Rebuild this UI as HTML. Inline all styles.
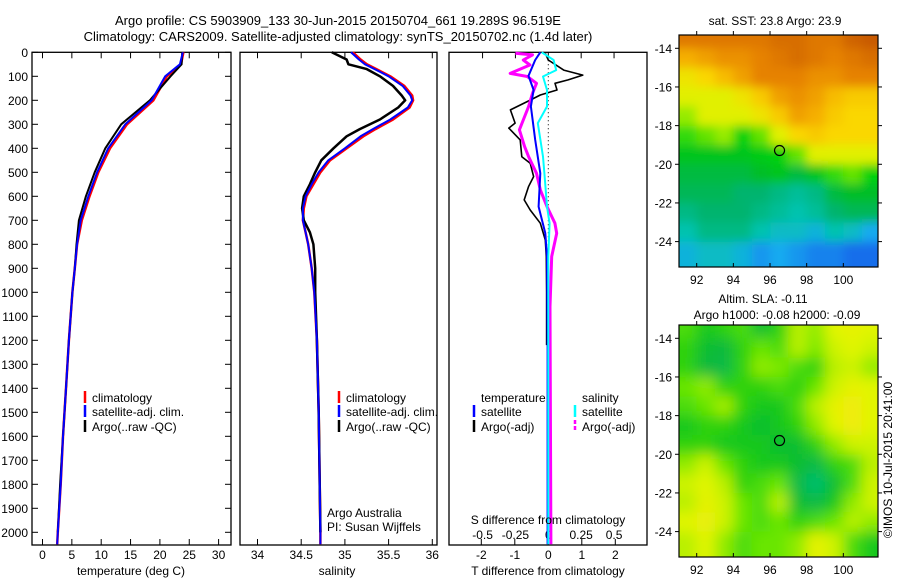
<!DOCTYPE html>
<html><head><meta charset="utf-8"><style>
body{margin:0;background:#fff;}
svg{display:block;font-family:"Liberation Sans",sans-serif;}
text{fill:#000;}
</style></head><body>
<svg id="fig" width="900" height="580" viewBox="0 0 900 580" xmlns="http://www.w3.org/2000/svg">
<defs>
<filter id="blur" x="-10%" y="-10%" width="120%" height="120%"><feGaussianBlur stdDeviation="7"/></filter>
<filter id="blur2" x="-10%" y="-10%" width="120%" height="120%"><feGaussianBlur stdDeviation="5"/></filter>
<clipPath id="clipTop"><rect x="679" y="35" width="199" height="232"/></clipPath>
<clipPath id="clipBot"><rect x="679" y="325" width="199" height="232"/></clipPath>
</defs>
<text x="338" y="25" font-size="13" text-anchor="middle">Argo profile: CS 5903909_133 30-Jun-2015 20150704_661 19.289S 96.519E</text>
<text x="338" y="41" font-size="13" text-anchor="middle">Climatology: CARS2009. Satellite-adjusted climatology: synTS_20150702.nc (1.4d later)</text>
<g id="p1"></g>
<g id="p2"></g>
<g id="p3"></g>
<g id="m1"></g>
<g id="m2"></g>
<text transform="translate(892,460) rotate(-90)" font-size="12" text-anchor="middle">©IMOS 10-Jul-2015 20:41:00</text>
</svg>
<script>
// ---- profile data ----
const tDepth = [0,50,100,200,300,400,500,600,700,800,900,1000,1200,1400,1600,1800,2000,2050];
const tClim  = [24.0,23.6,21.2,18.9,14.4,11.5,9.5,8.0,6.7,5.9,5.5,5.1,4.5,4.0,3.5,3.1,2.6,2.5];
const tSat   = [23.9,23.4,20.9,18.6,14.1,11.2,9.3,7.8,6.5,5.9,5.5,5.1,4.5,4.0,3.5,3.1,2.6,2.5];
const tArgo  = [23.8,23.7,21.8,18.3,13.4,10.7,8.9,7.4,6.2,5.8,5.5,5.1,4.5,4.0,3.5,3.0,2.6];
const sDepth = [0,30,50,70,100,140,180,200,230,280,320,350,400,450,500,550,600,650,700,750,800,900,1000,1200,1500,2000,2050];
const sClim  = [35.09,35.18,35.25,35.36,35.52,35.68,35.77,35.78,35.74,35.55,35.35,35.21,35.02,34.83,34.72,34.64,34.56,34.53,34.52,34.55,34.58,34.62,34.65,34.68,34.70,34.72,34.72];
const sSat   = [35.07,35.16,35.23,35.34,35.50,35.66,35.75,35.77,35.72,35.52,35.32,35.18,35.00,34.81,34.70,34.62,34.55,34.52,34.52,34.55,34.58,34.62,34.65,34.68,34.70,34.72,34.72];
const sArgo  = [34.85,35.02,35.04,35.25,35.40,35.55,35.65,35.69,35.61,35.40,35.17,35.02,34.87,34.73,34.66,34.60,34.53,34.51,34.53,34.60,34.64,34.66,34.66,34.68,34.70,34.72];
// differences
const dTArgoDepth = [4,32,74,95,115,129,157,178,199,240,295,316,365,435,462,518,560,615,657,712,782,851,1000,1220];
const dTArgo = [-0.09,0,0.46,1.03,0.59,0.2,0.26,-0.24,-0.54,-1.13,-0.99,-1.18,-0.84,-0.79,-0.54,-0.44,-0.59,-0.72,-0.54,-0.24,-0.09,-0.06,-0.05,-0.05];
const dTSatDepth = [0,32,98,157,226,365,504,643,754,851,1200,2050];
const dTSat = [-0.24,-0.39,-0.59,-0.44,-0.52,-0.39,-0.24,-0.29,-0.09,-0.04,-0.02,-0.02];
const dSSatDepth = [0,32,74,101,157,226,295,365,435,504,643,712,851,1200,2050];
const dSSat = [-0.05,0.04,0.06,-0.04,-0.01,-0.01,-0.08,-0.06,-0.04,-0.03,-0.01,0.01,0,0,0];
const dSArgoDepth = [4,11,32,53,88,101,129,171,226,323,393,435,504,574,643,712,754,851,1060,2050];
const dSArgo = [-0.25,-0.12,-0.19,-0.14,-0.29,-0.16,-0.09,-0.12,-0.15,-0.22,-0.18,-0.15,-0.09,-0.06,-0.01,0.05,0.064,0.026,0.013,0.02];
const depthTicks = [0,100,200,300,400,500,600,700,800,900,1000,1100,1200,1300,1400,1500,1600,1700,1800,1900,2000];
const tTicks = [0,5,10,15,20,25,30];
const sTicks = [34,34.5,35,35.5,36];
const dTTicks = [-2,-1,0,1,2];
const dSTicks = [-0.5,-0.25,0,0.25,0.5];
const dSTickLabels = ['-0.5','-0.25','0','0.25','0.5'];
// ---- map data (rows lat -13.5..-24.5, cols lon 91.5..101.5) ----
const mapLats = [-13.5,-14.5,-15.5,-16.5,-17.5,-18.5,-19.5,-20.5,-21.5,-22.5,-23.5,-24.5];
const mapLons = [91.5,92.5,93.5,94.5,95.5,96.5,97.5,98.5,99.5,100.5,101.5];
const sstGrid = [
[24.9,24.9,24.9,24.9,24.9,25.0,25.0,24.9,24.9,25.1,25.2],
[24.5,24.6,24.7,24.7,24.8,24.9,25.0,24.9,24.8,24.9,25.0],
[24.1,24.2,24.4,24.6,24.8,24.8,24.8,24.7,24.7,24.8,24.8],
[24.0,24.0,24.0,24.1,24.3,24.6,24.7,24.6,24.4,24.3,24.3],
[23.8,24.0,24.0,24.0,24.1,24.3,24.6,24.5,24.3,24.2,24.2],
[23.6,23.7,23.8,23.5,23.7,24.0,24.2,24.3,24.2,24.2,24.2],
[23.3,23.3,23.3,23.3,23.4,23.5,23.7,24.0,24.0,24.0,24.0],
[23.1,23.1,23.1,23.1,23.2,23.3,23.1,23.3,23.6,23.7,23.5],
[23.0,23.0,23.0,22.9,22.9,22.8,22.7,22.8,23.1,23.2,23.2],
[22.8,22.9,22.9,22.9,22.8,22.7,22.6,22.7,22.9,23.0,23.0],
[22.6,22.8,22.8,22.8,22.6,22.5,22.5,22.4,22.6,22.5,22.3],
[22.4,22.5,22.5,22.4,22.2,22.3,22.2,22.1,22.1,22.0,22.0]];
const slaGrid = [
[-0.08,-0.12,-0.10,-0.08,-0.14,-0.10,-0.02,-0.04,0.02,0.03,0.02],
[-0.10,-0.14,-0.15,-0.10,-0.06,-0.08,-0.02,-0.05,0.00,0.02,0.00],
[-0.10,-0.15,-0.16,-0.10,-0.04,-0.05,-0.08,-0.10,-0.02,0.00,-0.04],
[-0.06,-0.04,-0.10,-0.10,-0.10,-0.08,-0.10,-0.06,0.00,0.03,0.02],
[-0.08,-0.06,-0.03,-0.10,-0.12,-0.12,-0.08,-0.02,0.03,0.05,0.02],
[-0.12,-0.10,-0.10,-0.12,-0.14,-0.12,-0.10,-0.04,0.02,0.05,0.02],
[-0.10,-0.10,-0.12,-0.12,-0.12,-0.14,-0.14,-0.10,-0.04,0.00,0.00],
[-0.04,0.00,-0.06,-0.10,-0.12,-0.12,-0.14,-0.16,-0.10,-0.08,-0.02],
[0.00,0.02,-0.02,-0.10,-0.08,-0.06,-0.16,-0.20,-0.14,-0.08,0.00],
[-0.02,0.03,0.00,-0.06,-0.08,-0.02,-0.14,-0.16,-0.12,-0.04,0.00],
[0.02,0.04,0.00,-0.06,-0.08,-0.06,-0.10,-0.08,-0.06,-0.02,-0.04],
[-0.02,0.02,-0.04,-0.08,-0.06,-0.06,-0.04,0.03,0.00,-0.08,-0.12]];
const mapLonTicks = [92,94,96,98,100];
const mapLatTicks = [-14,-16,-18,-20,-22,-24];
const argoLon = 96.519, argoLat = -19.289;

const NS='http://www.w3.org/2000/svg';
function mk(parent,tag,attrs,txt){const e=document.createElementNS(NS,tag);for(const k in attrs)e.setAttribute(k,attrs[k]);if(txt!==undefined)e.textContent=txt;parent.appendChild(e);return e;}

const Y0=52.3, YPX=0.24, YB=545;
const yD = d => Y0 + d*YPX;
const xT = v => 42.5 + v*5.87;
const xS = v => 257.5 + (v-34)*87.4;
const xDT = v => 548.3 + v*33.5;
const xDS = v => 548.3 + v*131.5;

function frame(g,x0,x1,name){
  const r=mk(g,'rect',{x:x0,y:Y0,width:x1-x0,height:YB-Y0,fill:'none',stroke:'#000','stroke-width':1.3});
  
  
}
function line(g,xs,ds,xf,color,w,name,dash){
  const pts=xs.map((v,i)=>xf(v).toFixed(1)+','+yD(ds[i]).toFixed(1)).join(' ');
  const p=mk(g,'polyline',{points:pts,fill:'none',stroke:color,'stroke-width':w,'stroke-linejoin':'round'});
  if(dash)p.setAttribute('stroke-dasharray',dash);
  
  
}
function xticks(g,ticks,xf,labels,ly,top,bottom){
  ticks.forEach((t,i)=>{
    const x=xf(t);
    if(bottom){const l=mk(g,'line',{x1:x,x2:x,y1:YB,y2:YB-6,stroke:'#000'});}
    if(top){const l=mk(g,'line',{x1:x,x2:x,y1:Y0,y2:Y0+6,stroke:'#000'});}
    if(labels){const tx=mk(g,'text',{x:x,y:ly,'font-size':12,'text-anchor':'middle'},labels[i]);}
  });
}
function legendRow(g,x,y,color,label,dash){
  const l=mk(g,'line',{x1:x,x2:x,y1:y-11,y2:y+1,stroke:color,'stroke-width':2.5});
  if(dash)l.setAttribute('stroke-dasharray',dash);
  
  
  const t=mk(g,'text',{x:x+7,y:y,'font-size':12},label);
  
  
}

// Panel 1
const p1=document.getElementById('p1');
frame(p1,32,231,'temperature-axes');
depthTicks.forEach(d=>{
  const y=yD(d);
  const a=mk(p1,'line',{x1:32,x2:38,y1:y,y2:y,stroke:'#000'});
  const b=mk(p1,'line',{x1:225,x2:231,y1:y,y2:y,stroke:'#000'});
  const t=mk(p1,'text',{x:28,y:y+4.5,'font-size':12,'text-anchor':'end'},String(d));
});
xticks(p1,tTicks,xT,tTicks.map(String),559,true,true);
line(p1,tClim,tDepth,xT,'#f00',2.5,'temperature-climatology-line');
line(p1,tArgo,tDepth,xT,'#000',2,'temperature-argo-line');
line(p1,tSat,tDepth,xT,'#00f',2,'temperature-satellite-line');
legendRow(p1,85,402,'#f00','climatology');
legendRow(p1,85,416,'#00f','satellite-adj. clim.');
legendRow(p1,85,431,'#000','Argo(..raw -QC)');
mk(p1,'text',{x:131,y:575,'font-size':12,'text-anchor':'middle',},'temperature (deg C)');

// Panel 2
const p2=document.getElementById('p2');
frame(p2,240,437,'salinity-axes');
xticks(p2,sTicks,xS,['34','34.5','35','35.5','36'],559,true,true);
line(p2,sClim,sDepth,xS,'#f00',2.5,'salinity-climatology-line');
line(p2,sArgo,sDepth,xS,'#000',2.5,'salinity-argo-line');
line(p2,sSat,sDepth,xS,'#00f',2,'salinity-satellite-line');
legendRow(p2,339,402,'#f00','climatology');
legendRow(p2,339,416,'#00f','satellite-adj. clim.');
legendRow(p2,339,431,'#000','Argo(..raw -QC)');
mk(p2,'text',{x:327,y:517,'font-size':12,},'Argo Australia');
mk(p2,'text',{x:327,y:531,'font-size':12,},'PI: Susan Wijffels');
mk(p2,'text',{x:337,y:575,'font-size':12,'text-anchor':'middle',},'salinity');

// Panel 3
const p3=document.getElementById('p3');
frame(p3,449,647,'difference-axes');
mk(p3,'line',{x1:548.3,x2:548.3,y1:Y0,y2:YB,stroke:'#000','stroke-width':1,'stroke-dasharray':'1,3',});
xticks(p3,dTTicks,xDT,dTTicks.map(String),559,false,true);
xticks(p3,dSTicks,xDS,null,0,true,false);
dSTicks.forEach((t,i)=>{const tx=mk(p3,'text',{x:xDS(t),y:539,'font-size':12,'text-anchor':'middle'},dSTickLabels[i]);});
line(p3,dTArgo,dTArgoDepth,xDT,'#000',1.6,'t-diff-argo-line');
line(p3,dSArgo,dSArgoDepth,xDS,'#f0f',3,'s-diff-argo-line');
line(p3,dTSat,dTSatDepth,xDT,'#00f',2,'t-diff-satellite-line');
line(p3,dSSat,dSSatDepth,xDS,'#0ff',2,'s-diff-satellite-line');
mk(p3,'text',{x:481,y:402,'font-size':12,},'temperature');
mk(p3,'text',{x:582,y:402,'font-size':12,},'salinity');
legendRow(p3,474,416,'#00f','satellite');
legendRow(p3,474,431,'#000','Argo(-adj)');
legendRow(p3,575,416,'#0ff','satellite');
legendRow(p3,575,431,'#f0f','Argo(-adj)','4,2');
mk(p3,'text',{x:548,y:524,'font-size':12,'text-anchor':'middle',},'S difference from climatology');
mk(p3,'text',{x:548,y:575,'font-size':12,'text-anchor':'middle',},'T difference from climatology');

// Maps
const mx = lon => 696.7 + (lon-92)*18.33;
function sstColor(v){
  const stops=[[22.0,[20,110,235]],[22.3,[20,170,240]],[22.6,[0,195,175]],[22.9,[0,180,110]],[23.2,[0,190,40]],[23.5,[0,210,10]],[23.8,[150,235,0]],[24.0,[225,240,0]],[24.2,[250,215,0]],[24.5,[245,175,0]],[24.8,[230,130,0]],[25.2,[200,90,0]]];
  return interp(stops,v);
}
function slaColor(v){
  const stops=[[-0.20,[0,190,110]],[-0.15,[10,185,60]],[-0.11,[30,205,20]],[-0.06,[105,230,0]],[-0.02,[185,240,0]],[0.02,[225,245,0]],[0.05,[240,235,10]]];
  return interp(stops,v);
}
function interp(stops,v){
  if(v<=stops[0][0])return 'rgb('+stops[0][1]+')';
  for(let i=1;i<stops.length;i++){if(v<=stops[i][0]){const a=stops[i-1],b=stops[i],f=(v-a[0])/(b[0]-a[0]);return 'rgb('+a[1].map((c,j)=>Math.round(c+(b[1][j]-c)*f)).join(',')+')';}}
  return 'rgb('+stops[stops.length-1][1]+')';
}
function drawMap(g,top,grid,colorFn,clip,blur,title1,title2){
  const my = lat => top + 13.3 + (-14-lat)*19.33;
  const bottom=top+232;
  const cells=mk(g,'g',{'clip-path':'url(#'+clip+')'});
  const inner=mk(cells,'g',{filter:'url(#'+blur+')'});
  grid.forEach((row,r)=>row.forEach((v,c)=>{
    let x0=mx(mapLons[c]-0.5), x1=mx(mapLons[c]+0.5), y0=my(mapLats[r]+0.5), y1=my(mapLats[r]-0.5);
    if(c===0)x0-=25; if(c===row.length-1)x1+=25; if(r===0)y0-=25; if(r===grid.length-1)y1+=25;
    const cell=mk(inner,'rect',{x:x0,y:y0,width:x1-x0+0.5,height:y1-y0+0.5,fill:colorFn(v)});
    
    
  }));
  mk(g,'rect',{x:679,y:top,width:199,height:232,fill:'none',stroke:'#000','stroke-width':1.2,});
  mapLonTicks.forEach(l=>{
    const x=mx(l);
    const a=mk(g,'line',{x1:x,x2:x,y1:bottom,y2:bottom-4,stroke:'#000'});
    const b=mk(g,'line',{x1:x,x2:x,y1:top,y2:top-4,stroke:'#000'});
    const t=mk(g,'text',{x:x,y:bottom+17,'font-size':12,'text-anchor':'middle'},String(l));
  });
  mapLatTicks.forEach(l=>{
    const y=my(l);
    const a=mk(g,'line',{x1:679,x2:675,y1:y,y2:y,stroke:'#000'});
    const b=mk(g,'line',{x1:878,x2:882,y1:y,y2:y,stroke:'#000'});
    const t=mk(g,'text',{x:672,y:y+4.5,'font-size':12,'text-anchor':'end'},String(l));
  });
  const c=mk(g,'circle',{cx:mx(argoLon),cy:my(argoLat),r:5,fill:'none',stroke:'#000','stroke-width':1.2});
  
  
  if(title2){
    mk(g,'text',{x:763,y:top-22,'font-size':12,'text-anchor':'middle',},title1);
    mk(g,'text',{x:777,y:top-6,'font-size':12,'text-anchor':'middle',},title2);
  } else {
    mk(g,'text',{x:775,y:top-10,'font-size':12,'text-anchor':'middle',},title1);
  }
}
drawMap(document.getElementById('m1'),35,sstGrid,sstColor,'clipTop','blur2','sat. SST: 23.8 Argo: 23.9');
drawMap(document.getElementById('m2'),325,slaGrid,slaColor,'clipBot','blur','Altim. SLA: -0.11','Argo h1000: -0.08 h2000: -0.09');
</script>
</body></html>
